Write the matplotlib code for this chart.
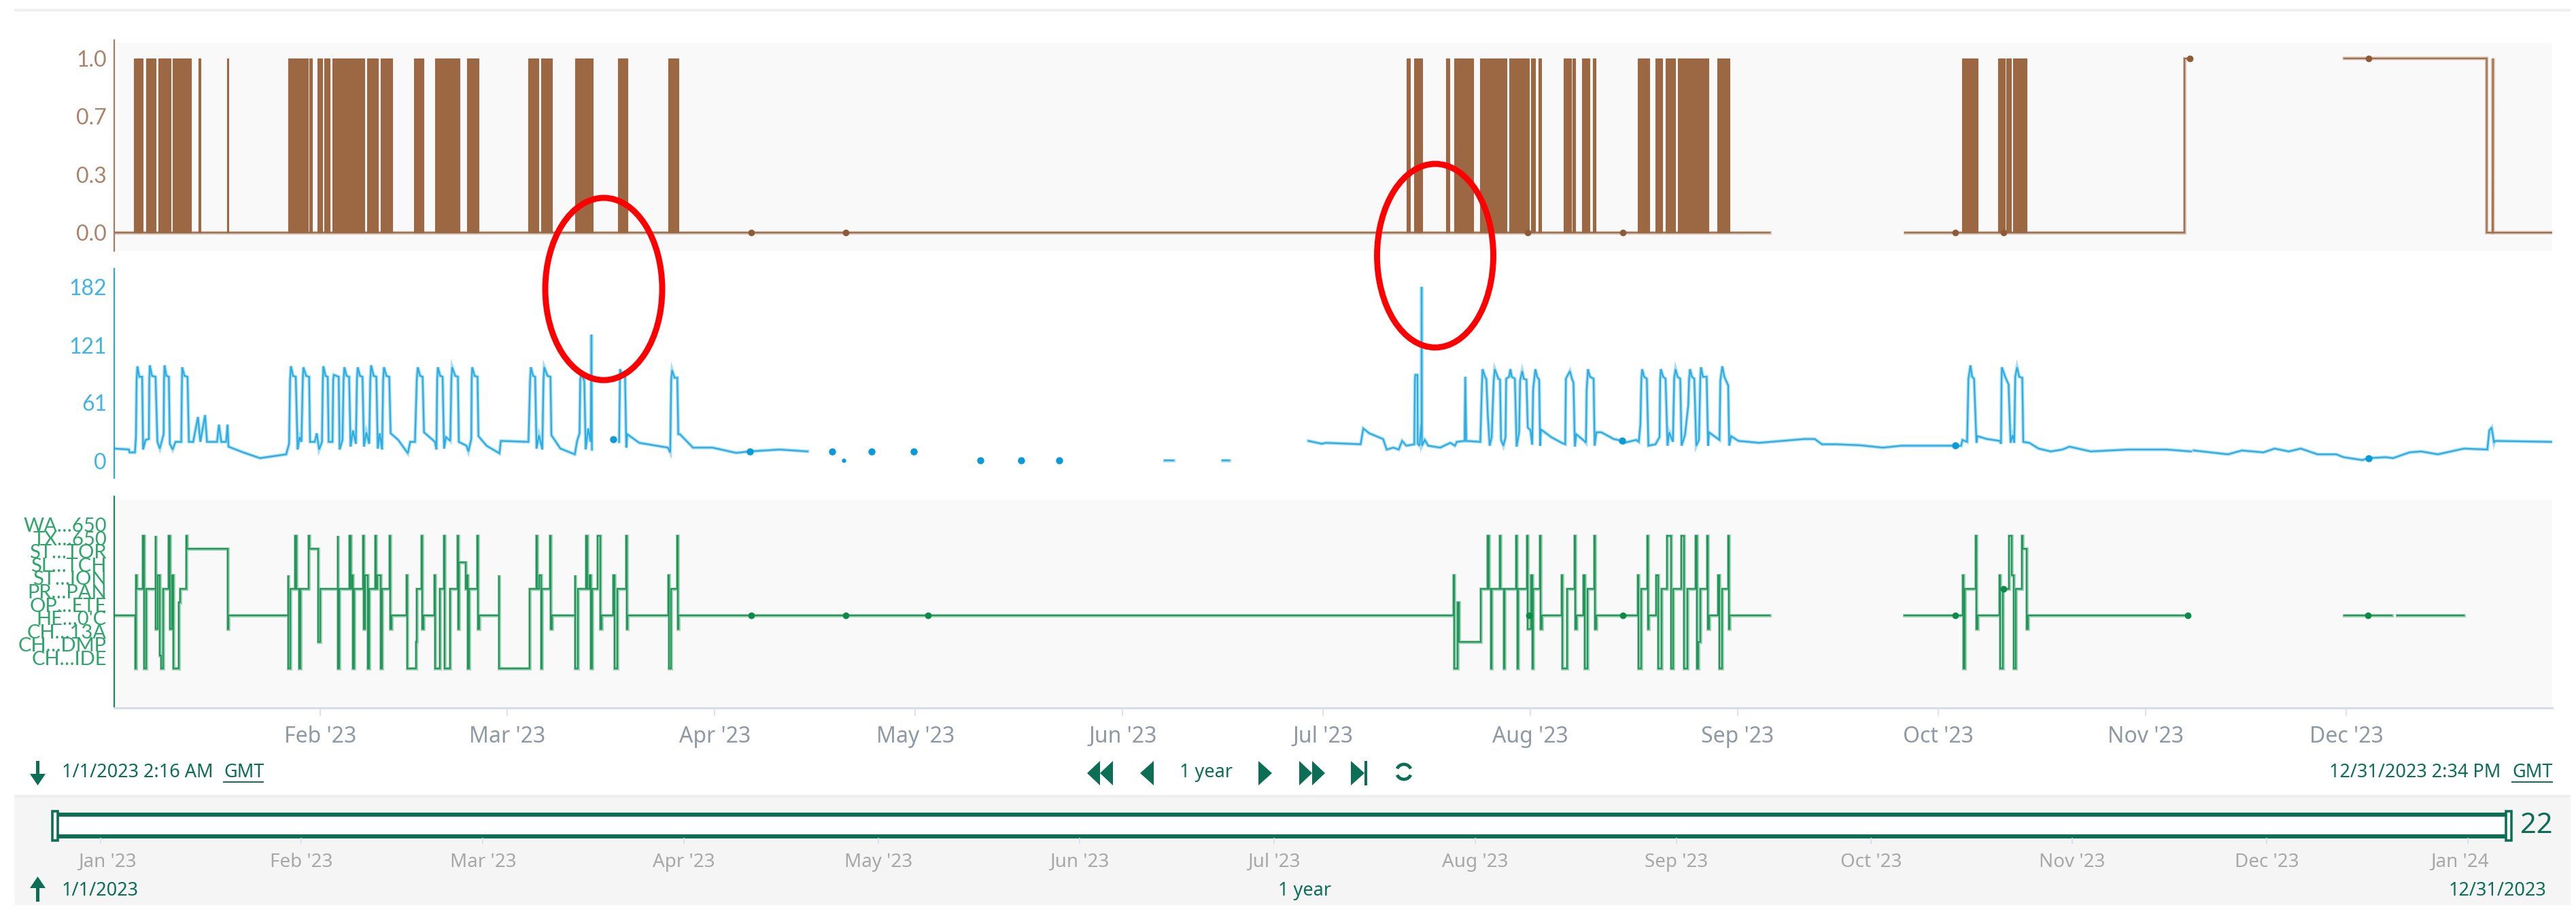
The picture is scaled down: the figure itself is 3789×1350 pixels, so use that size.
# Three stacked trend panels with the time navigator below them

import numpy as np
import matplotlib
matplotlib.use('Agg')
import matplotlib.pyplot as plt
from matplotlib.patches import Rectangle, Polygon, Ellipse, Arc
from matplotlib.transforms import Affine2D

W, H = 3789, 1350

# x values of all series are days since 1 Jan 2023
month_days = [31, 59, 90, 120, 151, 181, 212, 243, 273, 304, 334]
month_labels = ["Feb '23", "Mar '23", "Apr '23", "May '23", "Jun '23", "Jul '23",
                "Aug '23", "Sep '23", "Oct '23", "Nov '23", "Dec '23"]
nav_days = [0, 31, 59, 90, 120, 151, 181, 212, 243, 273, 304, 334, 365]
nav_labels = ["Jan '23"] + month_labels + ["Jan '24"]

# top panel, periods where the signal flips between 0 and 1
brown_blocks = [(3.1, 4.5), (4.95, 6.45), (6.8, 8.6), (8.95, 11.65), (12.8, 13.15), (17.1, 17.3),
                (26.2, 29.2), (29.35, 29.8), (30.6, 31.35), (31.6, 32.4), (32.85, 37.6), (38.05, 39.6),
                (40.05, 41.75), (45.0, 46.5), (48.2, 51.8), (53.0, 54.7), (62.15, 63.65), (64.1, 65.65),
                (69.1, 71.8), (75.55, 77.0), (83.1, 84.6),
                (193.43, 193.95), (194.57, 195.87), (199.4, 199.86), (200.6, 203.44), (204.43, 208.47),
                (208.79, 211.74), (212.05, 212.73), (213.2, 213.61), (216.93, 218.12), (218.28, 218.74),
                (219.73, 220.82), (221.34, 221.7), (228.0, 229.74), (230.73, 231.66), (232.23, 233.68),
                (234.05, 237.93), (238.04, 238.61), (239.96, 241.82),
                (276.5, 278.84), (281.94, 282.93), (283.14, 283.85), (284.13, 286.18)]
brown_line_days = [[0.2, 247.8], [267.96, 309.77, 309.77, 310.76],
                   [333.7, 355.0, 355.0, 355.9, 355.95, 355.95, 364.85]]
brown_line_vals = [[0, 0], [0, 0, 1, 1], [1, 1, 0, 0, 1, 0, 0]]
brown_dots_x = [95.5, 109.6, 211.6, 225.8, 275.5, 282.7, 310.6, 337.3]
brown_dots_y = [0, 0, 0, 0, 0, 0, 1, 1]

# middle panel
blue_part1 = [(0.24, 13), (2.4, 12), (2.5, 9), (3.3, 9), (3.45, 25), (3.55, 85), (3.67, 99), (3.95, 88), (4.38, 88),
              (4.52, 12), (4.88, 22), (5.38, 23), (5.45, 85), (5.52, 100), (5.85, 89), (6.38, 88), (6.66, 20),
              (7.02, 13), (7.59, 28), (7.65, 85), (7.73, 100), (8.0, 89), (8.37, 88), (8.52, 18), (8.94, 12),
              (9.37, 20), (10.23, 20), (10.3, 70), (10.37, 98), (10.7, 89), (11.16, 88), (11.37, 20), (12.01, 20),
              (12.72, 46), (13.08, 20), (13.79, 48), (14.08, 20), (15.58, 20), (15.86, 38), (16.22, 20), (16.93, 20),
              (17.15, 38), (17.29, 15), (19.5, 9), (22.0, 3), (25.92, 7), (26.35, 18), (26.5, 85), (26.63, 99),
              (26.95, 89), (27.35, 88), (27.63, 12), (27.92, 25), (28.2, 20), (28.4, 85), (28.49, 98), (28.9, 89),
              (29.35, 88), (29.49, 20), (30.2, 20), (30.49, 29), (30.84, 12), (31.27, 20), (31.4, 85), (31.48, 99),
              (31.8, 89), (32.13, 88), (32.27, 20), (32.84, 20), (32.95, 85), (33.05, 90), (33.4, 89), (33.77, 88),
              (33.91, 12), (34.34, 22), (34.5, 85), (34.62, 98), (34.95, 89), (35.33, 88), (35.55, 15), (35.91, 32),
              (36.34, 18), (36.5, 85), (36.62, 98), (36.95, 89), (37.33, 88), (37.55, 15), (37.91, 30), (38.33, 18),
              (38.5, 85), (38.62, 100), (39.0, 89), (39.4, 88), (39.62, 13), (39.9, 29), (40.26, 12), (40.42, 85),
              (40.54, 98), (40.9, 89), (41.33, 88), (41.54, 29), (42.68, 22), (44.11, 8), (44.47, 20), (45.18, 20),
              (45.45, 85), (45.6, 98), (45.95, 89), (46.32, 88), (46.53, 30), (48.17, 20), (48.39, 12), (48.5, 85),
              (48.6, 98), (48.95, 89), (49.31, 88), (49.53, 13), (49.81, 25), (50.46, 21), (50.62, 85), (50.74, 98),
              (51.2, 89), (51.6, 88), (51.74, 20), (52.88, 16), (53.17, 10), (53.6, 23), (53.66, 85), (53.74, 98),
              (54.1, 89), (54.53, 88), (54.67, 26), (55.88, 16), (57.81, 8), (58.02, 21), (62.15, 20), (62.4, 85),
              (62.51, 98), (62.85, 89), (63.15, 88), (63.36, 13), (63.72, 27), (64.22, 12), (64.4, 85), (64.51, 98),
              (65.0, 89), (65.44, 88), (65.58, 27), (66.93, 13), (69.08, 7), (69.43, 21), (69.79, 29), (69.9, 85),
              (70.0, 91), (70.5, 84), (70.71, 12), (71.07, 34), (71.45, 20), (71.57, 132), (71.64, 12)]
blue_part2 = [(75.71, 20), (75.85, 96), (76.2, 89), (76.6, 88), (76.78, 14), (76.93, 28), (78.71, 19), (82.99, 14),
              (83.35, 9), (83.5, 85), (83.63, 95), (84.0, 87), (84.41, 87), (84.56, 28), (84.8, 28), (86.75, 14),
              (89.66, 14), (93.2, 8.5), (95.2, 10), (99.7, 12), (103.9, 10)]
blue_part3 = [(178.8, 21), (180.8, 18), (181.4, 19), (186.6, 17.5), (187.0, 34), (187.88, 29), (189.96, 23), (190.5, 12),
              (191.5, 14), (192.3, 12), (192.8, 21), (193.43, 16), (194.63, 17.5), (194.72, 85), (194.78, 90),
              (195.1, 90), (195.14, 18), (195.4, 16), (195.7, 40), (195.72, 182), (195.77, 16), (196.2, 22), (196.7, 16),
              (198.5, 14), (200.0, 19), (200.7, 16), (201.0, 20), (202.15, 21), (202.25, 88), (202.4, 21), (204.5, 20),
              (204.74, 79), (204.84, 96), (205.26, 87), (205.4, 86), (205.62, 48), (205.9, 16), (206.2, 25), (206.5, 84),
              (206.66, 96), (207.2, 86), (207.45, 85), (207.6, 22), (207.95, 16), (208.27, 25), (208.37, 86), (208.8, 88),
              (209.0, 96), (209.2, 88), (209.67, 86), (209.93, 15), (210.3, 30), (210.45, 84), (210.76, 94), (211.0, 86),
              (211.4, 85), (211.6, 35), (212.0, 32), (212.26, 17), (212.4, 75), (212.73, 96), (213.0, 88), (213.3, 85),
              (213.45, 16), (213.56, 33), (215.1, 25), (216.67, 19), (217.2, 17.5), (217.3, 86), (217.9, 94), (218.2, 86),
              (218.43, 82), (218.64, 15), (218.85, 28), (220.04, 21), (220.3, 19), (220.4, 74), (220.6, 96), (220.9, 88),
              (221.44, 86), (221.6, 16), (221.86, 30), (222.6, 30), (224.45, 23), (225.75, 21), (226, 19), (227.8, 22),
              (228.2, 20), (228.44, 38), (228.58, 85), (228.7, 96), (229.0, 88), (229.4, 86), (229.64, 16), (230.7, 17.5),
              (231.3, 25), (231.4, 86), (231.5, 96), (231.85, 88), (232.2, 86), (232.5, 16), (232.75, 30), (233.3, 20),
              (233.5, 87), (233.7, 96), (234.0, 88), (234.4, 86), (234.6, 16), (235.1, 27), (235.6, 58), (235.72, 85),
              (235.86, 96), (236.15, 88), (236.5, 86), (236.8, 16), (237.2, 22), (237.4, 86), (237.5, 98), (237.8, 88),
              (238.35, 88), (238.56, 16), (238.7, 30), (240.27, 22), (240.4, 84), (240.68, 99), (241.0, 88), (241.57, 79),
              (241.72, 16), (242, 26), (243.1, 21), (246.2, 19), (250.4, 21.5), (253, 23), (254.5, 23), (255.6, 17.5),
              (257.65, 17.5), (261.2, 16.5), (264.7, 14), (267.5, 16), (275.3, 16), (275.6, 15), (276.4, 16), (276.6, 22),
              (277.3, 20), (277.5, 86), (277.8, 100), (278.05, 88), (278.34, 86), (278.7, 19), (278.84, 26), (280.25, 23),
              (282.2, 21), (282.37, 18), (282.45, 85), (282.5, 98), (283.0, 88), (283.5, 80), (283.8, 19), (284.1, 27),
              (284.35, 19), (284.5, 88), (284.77, 98), (285.1, 88), (285.55, 87), (285.7, 20), (286.6, 19), (288, 13),
              (289.8, 10), (291.55, 12), (292.6, 15), (295.8, 10), (301.4, 12), (307.1, 12), (310.76, 10)]
blue_part4 = [(311.2, 11), (316.3, 7), (318.4, 11), (321.6, 9), (323.3, 13), (325.4, 10), (327.2, 13), (329.7, 7),
              (332.5, 7), (333.6, 4), (336.4, 1), (337.3, 3), (339.9, 4), (341, 3), (343.45, 9), (345.2, 10), (347.7, 7),
              (351.6, 13), (355.1, 12), (355.4, 32), (355.74, 35), (356.1, 19), (356.2, 21), (364.85, 20)]
blue_dash1 = [(157.3, 1), (158.6, 1)]
blue_dash2 = [(165.9, 1), (166.9, 1)]
blue_dots_x = [74.78, 95.3, 107.6, 113.5, 119.76, 129.7, 135.84, 141.5, 225.75, 275.5, 337.3]
blue_dots_y = [23, 10, 10, 10, 10, 1, 1, 1, 21, 16, 3]
blue_small_x = [109.25]
blue_small_y = [1]

# bottom panel, state index at each change of state
green_states = ["CH…IDE", "CH…DMP", "CH…13A", "HE…0'C", "OP…ETE", "PR…PAN",
                "ST…ION", "SL…TCH", "ST…TOR", "TX…650", "WA…650"]
green_part1 = [(0.2, 4), (3.32, 0), (3.42, 7), (3.52, 6), (4.52, 10), (4.66, 0), (5.02, 6), (6.38, 10), (6.45, 3),
               (6.75, 7), (7.05, 1), (7.2, 0), (7.5, 6), (8.37, 10), (8.52, 3), (8.8, 7), (9.0, 0), (9.85, 5), (10.1, 6),
               (11.0, 10), (11.1, 9), (17.13, 3), (17.25, 4), (26.2, 7), (26.26, 0), (26.5, 6), (27.25, 10), (27.4, 6),
               (27.9, 0), (28.1, 6), (29.3, 10), (29.4, 9), (30.75, 2), (31.0, 6), (33.6, 10), (33.66, 0), (33.9, 6),
               (35.4, 10), (35.55, 6), (35.7, 7), (35.9, 0), (36.1, 6), (37.4, 10), (37.5, 3), (37.7, 7), (38.1, 0),
               (38.3, 6), (39.25, 10), (39.35, 6), (39.5, 7), (40.1, 0), (40.3, 6), (41.4, 10), (41.5, 3), (41.65, 4),
               (43.95, 7), (44.0, 0), (45.3, 2), (45.45, 6), (46.2, 10), (46.3, 3), (46.45, 4), (48.1, 7), (48.18, 0),
               (48.9, 6), (49.5, 10), (49.6, 0), (50.4, 6), (51.55, 10), (51.65, 3), (51.75, 8), (52.75, 6), (53.0, 7),
               (53.1, 0), (53.25, 6), (54.5, 10), (54.6, 3), (54.75, 4), (57.7, 7), (57.76, 0), (62.3, 6), (63.3, 10),
               (63.4, 6), (63.75, 7), (64.05, 0), (64.2, 6), (65.4, 10), (65.5, 3), (65.65, 4), (69.1, 7), (69.15, 0),
               (69.5, 6), (70.8, 10), (70.95, 6), (71.25, 7), (71.5, 0), (71.7, 6), (72.5, 10), (72.85, 3), (73.1, 4),
               (74.85, 7), (75.0, 0), (75.4, 6), (76.75, 10), (76.85, 3), (77.0, 4), (83.1, 7), (83.2, 0), (83.45, 6),
               (84.35, 10), (84.45, 3), (84.6, 4), (200.5, 7), (200.64, 0), (201.09, 5), (201.35, 2), (204.53, 6),
               (205.63, 10), (205.75, 6), (206.08, 0), (206.2, 6), (207.38, 10), (207.5, 6), (208.03, 0), (208.15, 6),
               (209.85, 10), (209.95, 6), (210.04, 0), (210.15, 6), (211.47, 10), (211.6, 3), (212.12, 7), (212.25, 0),
               (212.4, 6), (213.41, 10), (213.5, 3), (213.74, 4), (216.66, 7), (216.72, 0), (216.98, 0), (217.43, 6),
               (218.6, 10), (218.7, 3), (218.93, 4), (219.9, 7), (220.09, 0), (220.55, 6), (221.52, 10), (221.62, 3),
               (221.84, 4), (228.0, 7), (228.2, 0), (228.52, 6), (229.5, 10), (229.56, 3), (229.63, 4), (230.79, 7),
               (231.12, 0), (231.57, 6), (232.41, 10), (233.0, 0), (233.32, 6), (234.55, 10), (234.94, 0), (235.46, 6),
               (236.7, 10), (236.89, 0), (237.08, 2), (237.41, 6), (238.45, 10), (238.55, 3), (238.7, 4), (240.0, 7),
               (240.26, 0), (240.65, 6), (241.62, 10), (241.7, 3), (241.82, 4), (247.78, 4)]
green_part2 = [(267.95, 4), (276.64, 7), (276.77, 0), (276.97, 6), (278.59, 10), (278.7, 3), (278.85, 4), (282.16, 7),
               (282.28, 0), (282.6, 6), (283.58, 10), (283.97, 7), (284.23, 0), (284.55, 6), (285.47, 10), (285.6, 9),
               (286.24, 3), (286.4, 4), (310.3, 4)]
green_part3 = [(333.7, 4), (340.8, 4)]
green_part4 = [(341.6, 4), (351.6, 4)]
green_dots_x = [95.5, 109.6, 121.9, 211.8, 225.86, 275.5, 282.8, 310.3, 337.2]
green_dots_y = [4, 4, 4, 4, 4, 4, 6, 4, 4]

BROWN = '#9c6844'
BLUE = '#1fa8e0'
GREEN = '#14914f'
TEAL = '#0b6e55'
LAVENDER = '#d6dcea'
PANEL_BG = '#f9f9f9'

plt.rcParams['font.family'] = ['Lato', 'DejaVu Sans']

fig = plt.figure(figsize=(W / 100, H / 100), dpi=100, facecolor='white')


def px_axes(x0, y0, x1, y1, **kw):
    # axes from its pixel box, y counted from the top of the picture
    return fig.add_axes([x0 / W, 1 - y1 / H, (x1 - x0) / W, (y1 - y0) / H], **kw)


# flat layer in picture pixels for the backgrounds and the controls
ui = px_axes(0, 0, W, H)
ui.set_xlim(0, W)
ui.set_ylim(H, 0)
ui.axis('off')

ui.add_patch(Rectangle((21, 13), 3760, 4, color='#efefef', lw=0))
ui.add_patch(Rectangle((168, 63), 3586, 306, color=PANEL_BG, lw=0))
ui.add_patch(Rectangle((168, 735), 3586, 305, color=PANEL_BG, lw=0))


def style_panel(ax, color, tick_color, ylim):
    ax.patch.set_alpha(0)
    ax.set_xlim(0.2, 364.8)
    ax.set_ylim(*ylim)
    for side in ['top', 'right', 'bottom']:
        ax.spines[side].set_visible(False)
    ax.spines['left'].set_color(color)
    ax.spines['left'].set_linewidth(1.6)
    ax.tick_params(axis='y', length=0, pad=8, labelsize=23, labelcolor=tick_color)
    ax.set_xticks([])


def layered(ax, x, y, color):
    # soft wide stroke with a sharper one on top
    ax.plot(x, y, color=color, lw=3.6, alpha=0.38, solid_joinstyle='miter')
    ax.plot(x, y, color=color, lw=1.6, alpha=0.9, solid_joinstyle='miter')


# top panel
ax1 = px_axes(168, 59, 3754, 369)
style_panel(ax1, '#a67c5f', '#a9846a', (-0.105, 1.105))
ax1.set_yticks([0, 1 / 3, 2 / 3, 1], ['0.0', '0.3', '0.7', '1.0'])
for days, vals in zip(brown_line_days, brown_line_vals):
    layered(ax1, days, vals, BROWN)
for start, end in brown_blocks:
    ax1.fill_between([start, end], 0, 1, color=BROWN, lw=0.8)
ax1.plot(brown_dots_x, brown_dots_y, ls='none', marker='o', ms=6, color='#8f5a36')

# middle panel
ax2 = px_axes(168, 395, 3754, 703)
style_panel(ax2, '#29abe2', '#3fb4e5', (-17.8, 201.1))
ax2.set_yticks([0, 61, 121, 182])
for part in [blue_part1, blue_part2, blue_part3, blue_part4, blue_dash1, blue_dash2]:
    days, vals = zip(*part)
    layered(ax2, days, vals, BLUE)
ax2.plot(blue_dots_x, blue_dots_y, ls='none', marker='o', ms=6.5, color='#0a9ad9')
ax2.plot(blue_small_x, blue_small_y, ls='none', marker='o', ms=3.5, color='#0a9ad9')

# bottom panel
ax3 = px_axes(168, 730, 3754, 1041)
style_panel(ax3, GREEN, '#2ea56a', (-2.97, 12.97))
ax3.set_yticks(range(len(green_states)), green_states)
ax3.tick_params(axis='y', labelsize=21)
for lab in ax3.get_yticklabels():
    lab.set_transform(lab.get_transform() + Affine2D().translate(0, 16))
for part in [green_part1, green_part2, green_part3, green_part4]:
    days, vals = zip(*part)
    layered(ax3, np.repeat(days, 2)[1:], np.repeat(vals, 2)[:-1], GREEN)
ax3.plot(green_dots_x, green_dots_y, ls='none', marker='o', ms=6, color='#0b8a48')
ax3.spines['bottom'].set_visible(True)
ax3.spines['bottom'].set_color(LAVENDER)
ax3.spines['bottom'].set_linewidth(2.2)
ax3.set_xticks(month_days, month_labels)
ax3.tick_params(axis='x', length=8.6, width=1.2, color=LAVENDER, pad=10, labelsize=23,
                labelcolor='#8e99a3', labelfontfamily='Noto Sans')

# navigator background first, the controls go on top of it
ui.add_patch(Rectangle((21, 1169), 3760, 162, color='#f5f5f5', lw=0))
ui.add_patch(Rectangle((21, 1169), 3760, 4, color='#eeeeee', lw=0))
ui.add_patch(Rectangle((81, 1198), 3609, 32, color='white', lw=0))
ui.add_patch(Rectangle((81, 1195), 3609, 6, color=TEAL, lw=0))
ui.add_patch(Rectangle((81, 1227), 3609, 6, color=TEAL, lw=0))
for hx in [75, 3684]:
    ui.add_patch(Rectangle((hx + 2, 1193), 8, 43, facecolor='white', edgecolor=TEAL, lw=2.6))
ui.text(3731, 1214, '22', color=TEAL, fontsize=30, fontweight='bold',
        family=['Liberation Sans Narrow', 'Noto Sans'], ha='center', va='center')

# time range text and buttons
foot = dict(color=TEAL, fontsize=19.5, family='Noto Sans', va='center')
ui.text(91, 1136, '1/1/2023 2:16 AM', ha='left', **foot)
ui.text(329, 1136, 'GMT', ha='left', **foot)
ui.plot([329, 387], [1150, 1150], color=TEAL, lw=1.4)
ui.text(1735, 1136, '1 year', ha='left', **foot)
ui.text(3426, 1136, '12/31/2023 2:34 PM', ha='left', **foot)
ui.text(3695, 1136, 'GMT', ha='left', **foot)
ui.plot([3695, 3754], [1150, 1150], color=TEAL, lw=1.4)

ui.add_patch(Rectangle((52.5, 1119), 5, 24, color=TEAL, lw=0))
ui.add_patch(Polygon([(44, 1138), (67, 1138), (55.5, 1155)], color=TEAL, lw=0))
ui.add_patch(Rectangle((52.5, 1301), 5, 25, color=TEAL, lw=0))
ui.add_patch(Polygon([(44, 1306), (67, 1306), (55.5, 1289)], color=TEAL, lw=0))

for left, right in [(1599, 1618), (1618, 1637), (1677, 1697)]:
    ui.add_patch(Polygon([(right, 1119), (right, 1155), (left, 1137)], color=TEAL, lw=0))
for left, right in [(1851, 1871), (1911, 1930), (1930, 1949), (1987, 2007)]:
    ui.add_patch(Polygon([(left, 1119), (left, 1155), (right, 1137)], color=TEAL, lw=0))
ui.add_patch(Rectangle((2007, 1119), 4, 36, color=TEAL, lw=0))
ui.add_patch(Arc((2065, 1135), 22, 22, theta1=25, theta2=155, color=TEAL, lw=3.4))
ui.add_patch(Arc((2065, 1135), 22, 22, theta1=205, theta2=335, color=TEAL, lw=3.4))

nav = px_axes(21, 1198, 3781, 1232)
nav.patch.set_alpha(0)
nav.set_xlim((21 - 147.5) / 9.54, (3781 - 147.5) / 9.54)
nav.set_yticks([])
for side in nav.spines:
    nav.spines[side].set_visible(False)
nav.set_xticks(nav_days, nav_labels)
nav.tick_params(axis='x', length=6.5, width=1.2, color=LAVENDER, pad=9, labelsize=20,
                labelcolor='#a8a8a8', labelfontfamily='Noto Sans')
labs = nav.get_xticklabels()
labs[0].set_transform(labs[0].get_transform() + Affine2D().translate(10, 0))
labs[-1].set_transform(labs[-1].get_transform() + Affine2D().translate(-12, 0))

ui.text(91, 1310, '1/1/2023', ha='left', **foot)
ui.text(1919, 1310, '1 year', ha='center', **foot)
ui.text(3745, 1310, '12/31/2023', ha='right', **foot)

# red hand drawn circles go above everything
for cx, cy, ew, eh in [(888, 425, 172, 268), (2111, 376, 171, 270)]:
    fig.add_artist(Ellipse((cx, cy), ew, eh, transform=ui.transData, fill=False,
                           edgecolor='#ff0000', lw=6.4, zorder=10))

fig.savefig('out.png', dpi=100)
